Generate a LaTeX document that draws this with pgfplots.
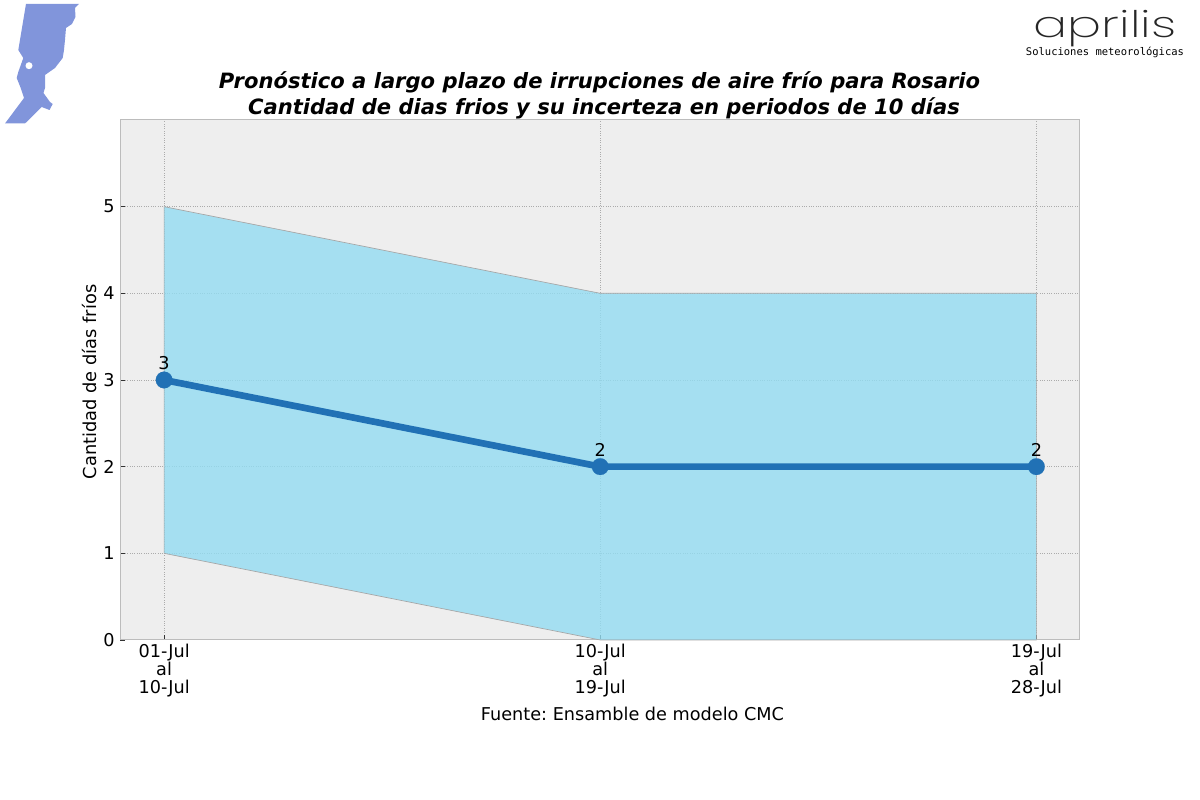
\documentclass[border=0pt]{standalone}
\usepackage{pgfplots}
\pgfplotsset{compat=1.18}
\usepackage{fontspec}
\setmainfont{DejaVu Sans}
\frenchspacing
\newfontfamily\logofont{Poppins ExtraLight}
\newfontfamily\monofont{DejaVu Sans Mono}
\definecolor{bandc}{HTML}{93DCF2}
\definecolor{bgc}{HTML}{EEEEEE}
\definecolor{linec}{HTML}{2171B5}
\definecolor{gridc}{HTML}{ABABAB}
\definecolor{spinec}{HTML}{BCBCBC}
\definecolor{mapc}{HTML}{8195DB}
\pgfplotstableread{
x low mid high
0 1 3 5
1 0 2 4
2 0 2 4
}\datatable
\pgfplotstableread{
x y
0 1
1 0
2 0
2 4
1 4
0 5
0 1
}\bandtable
\begin{document}
\begin{tikzpicture}
\begin{scope}[x=0.6pt,y=-0.6pt,yshift=480pt]
\path[use as bounding box] (0,0) rectangle (1200,800);
\fill[mapc] (26,4) -- (79,4) -- (75,8) -- (75.5,17) -- (72,24) -- (66,28) -- (65,40) -- (64,50) -- (62.7,58) -- (55,68) -- (45,75) -- (45,88) -- (43.5,93) -- (50,102) -- (52.7,104) -- (49.5,110) -- (41.7,107) -- (25,123.5) -- (5,123.5) -- (24,98) -- (20.7,88) -- (16.7,78) -- (18.3,72) -- (23.3,58) -- (18.3,50) -- cycle;
\fill[white] (29,65.7) circle[radius=3.5];
\node[anchor=base,xscale=1.38,font=\logofont\fontsize{22}{22}\selectfont,text=black!85,inner sep=0pt] at (1105,38) {aprilis};
\node[anchor=center,font=\monofont\fontsize{6.3}{6.3}\selectfont] at (1105,52) {Soluciones meteorológicas};
\node[font=\bfseries\itshape\fontsize{12.65}{14}\selectfont] at (599.5,82) {Pronóstico a largo plazo de irrupciones de aire frío para Rosario};
\node[font=\bfseries\itshape\fontsize{12.65}{14}\selectfont] at (604,108) {Cantidad de dias frios y su incerteza en periodos de 10 días};
\node[rotate=90,font=\fontsize{10.7}{12}\selectfont] at (89,382) {Cantidad de días fríos};
\node[font=\fontsize{10.6}{12}\selectfont] at (632.5,714) {Fuente: Ensamble de modelo CMC};
\end{scope}
\begin{axis}[
  at={(72.3pt,96pt)},anchor=south west,
  scale only axis,
  width=575.7pt,height=312pt,
  xmin=-0.1,xmax=2.1,ymin=0,ymax=6,
  axis background/.style={fill=bgc},
  axis line style={spinec,line width=0.6pt},
  grid=major,
  grid style={gridc,densely dotted,line width=0.4pt},
  xtick={0,1,2},
  xticklabels={{01-Jul\\al\\10-Jul},{10-Jul\\al\\19-Jul},{19-Jul\\al\\28-Jul}},
  xticklabel style={align=center,font=\fontsize{10.6}{10.9}\selectfont,yshift=1pt},
  ytick={1,2,3,4,5},
  extra y ticks={0},
  extra y tick style={grid=none},
  yticklabel style={font=\fontsize{10.6}{12}\selectfont},
  /pgf/number format/assume math mode=true,
  tick style={black!80,line width=0.4pt},
  tick align=inside,
  major tick length=3pt,
  tick pos=left,
  clip=false,
]
\addplot[draw=gray!70,line width=0.4pt,fill=bandc,fill opacity=0.8] table[x=x,y=y] {\bandtable};
\addplot[linec,line width=4pt,mark=*,mark size=5pt,mark options={fill=linec,draw=linec,line width=0.1pt},
  nodes near coords,every node near coord/.style={font=\fontsize{10.6}{12}\selectfont,text=black,anchor=south,yshift=2.6pt},
  point meta=y] table[x=x,y=mid] {\datatable};
\end{axis}
\end{tikzpicture}
\end{document}
